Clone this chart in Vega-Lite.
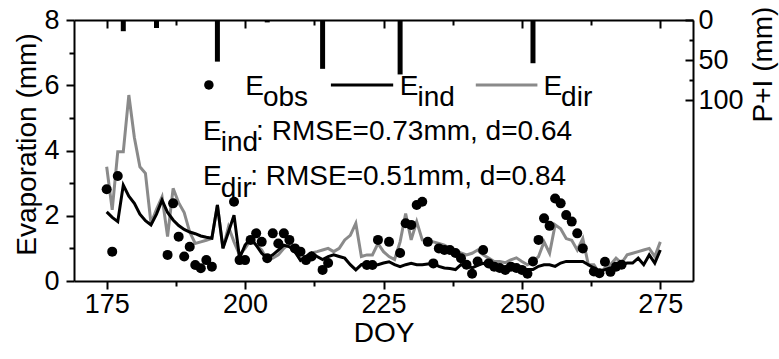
{
  "$schema": "https://vega.github.io/schema/vega-lite/v6.json",
  "width": 619,
  "height": 261,
  "autosize": {"type": "none"},
  "padding": {"left": 74, "top": 20, "right": 86, "bottom": 78},
  "background": "white",
  "config": {
    "font": "Liberation Sans",
    "view": {"stroke": null},
    "axis": {
      "domainColor": "black", "tickColor": "black", "labelColor": "black", "titleColor": "black",
      "labelFont": "Liberation Sans", "titleFont": "Liberation Sans",
      "labelFontSize": 27, "titleFontSize": 28, "titleFontWeight": "normal",
      "grid": false, "domainWidth": 2, "tickWidth": 2
    },
    "text": {"font": "Liberation Sans", "fontSize": 28, "color": "black", "align": "left", "baseline": "alphabetic"}
  },
  "datasets": {
    "series": [
      {"DOY":175,"Eind":2.12,"Edir":3.50},{"DOY":176,"Eind":1.95,"Edir":2.18},{"DOY":177,"Eind":1.82,"Edir":3.96},
      {"DOY":178,"Eind":2.94,"Edir":3.96},{"DOY":179,"Eind":2.60,"Edir":5.70},{"DOY":180,"Eind":2.38,"Edir":4.40},
      {"DOY":181,"Eind":2.05,"Edir":3.50},{"DOY":182,"Eind":1.85,"Edir":3.30},{"DOY":183,"Eind":1.72,"Edir":1.77},
      {"DOY":184,"Eind":2.05,"Edir":2.20},{"DOY":185,"Eind":2.48,"Edir":2.58},{"DOY":186,"Eind":2.10,"Edir":1.36},
      {"DOY":187,"Eind":1.87,"Edir":2.84},{"DOY":188,"Eind":1.70,"Edir":2.40},{"DOY":189,"Eind":1.58,"Edir":2.10},
      {"DOY":190,"Eind":1.50,"Edir":1.50},{"DOY":191,"Eind":1.45,"Edir":1.15},{"DOY":192,"Eind":1.38,"Edir":1.20},
      {"DOY":193,"Eind":1.34,"Edir":1.25},{"DOY":194,"Eind":1.31,"Edir":1.31},{"DOY":195,"Eind":2.33,"Edir":2.33},
      {"DOY":196,"Eind":1.00,"Edir":1.00},{"DOY":197,"Eind":1.50,"Edir":1.66},{"DOY":198,"Eind":2.02,"Edir":1.20},
      {"DOY":199,"Eind":0.70,"Edir":0.80},{"DOY":200,"Eind":1.10,"Edir":1.00},{"DOY":201,"Eind":1.30,"Edir":1.26},
      {"DOY":202,"Eind":1.10,"Edir":1.10},{"DOY":203,"Eind":0.85,"Edir":0.95},{"DOY":204,"Eind":0.70,"Edir":0.64},
      {"DOY":205,"Eind":0.80,"Edir":0.70},{"DOY":206,"Eind":0.95,"Edir":0.80},{"DOY":207,"Eind":1.10,"Edir":1.00},
      {"DOY":208,"Eind":1.05,"Edir":1.15},{"DOY":209,"Eind":0.90,"Edir":0.90},{"DOY":210,"Eind":0.63,"Edir":0.66},
      {"DOY":211,"Eind":0.75,"Edir":0.75},{"DOY":212,"Eind":0.86,"Edir":0.86},{"DOY":213,"Eind":0.75,"Edir":0.90},
      {"DOY":214,"Eind":0.66,"Edir":0.95},{"DOY":215,"Eind":0.75,"Edir":1.00},{"DOY":216,"Eind":0.80,"Edir":0.90},
      {"DOY":217,"Eind":0.75,"Edir":1.00},{"DOY":218,"Eind":0.70,"Edir":1.26},{"DOY":219,"Eind":0.50,"Edir":1.40},
      {"DOY":220,"Eind":0.34,"Edir":1.77},{"DOY":221,"Eind":0.50,"Edir":0.75},{"DOY":222,"Eind":0.55,"Edir":0.80},
      {"DOY":223,"Eind":0.50,"Edir":0.80},{"DOY":224,"Eind":0.50,"Edir":1.15},{"DOY":225,"Eind":0.55,"Edir":0.90},
      {"DOY":226,"Eind":0.59,"Edir":0.75},{"DOY":227,"Eind":0.50,"Edir":0.66},{"DOY":228,"Eind":0.44,"Edir":1.20},
      {"DOY":229,"Eind":0.50,"Edir":2.07},{"DOY":230,"Eind":0.54,"Edir":1.26},{"DOY":231,"Eind":0.50,"Edir":1.82},
      {"DOY":232,"Eind":0.50,"Edir":1.26},{"DOY":233,"Eind":0.52,"Edir":1.25},{"DOY":234,"Eind":0.54,"Edir":1.20},
      {"DOY":235,"Eind":0.45,"Edir":1.15},{"DOY":236,"Eind":0.40,"Edir":1.10},{"DOY":237,"Eind":0.38,"Edir":1.00},
      {"DOY":238,"Eind":0.35,"Edir":0.90},{"DOY":239,"Eind":0.50,"Edir":0.86},{"DOY":240,"Eind":0.48,"Edir":0.80},
      {"DOY":241,"Eind":0.40,"Edir":0.85},{"DOY":242,"Eind":0.48,"Edir":0.95},{"DOY":243,"Eind":0.54,"Edir":0.80},
      {"DOY":244,"Eind":0.48,"Edir":0.70},{"DOY":245,"Eind":0.44,"Edir":0.60},{"DOY":246,"Eind":0.42,"Edir":0.60},
      {"DOY":247,"Eind":0.40,"Edir":0.56},{"DOY":248,"Eind":0.38,"Edir":0.65},{"DOY":249,"Eind":0.35,"Edir":0.71},
      {"DOY":250,"Eind":0.35,"Edir":0.60},{"DOY":251,"Eind":0.35,"Edir":0.50},{"DOY":252,"Eind":0.35,"Edir":0.60},
      {"DOY":253,"Eind":0.45,"Edir":0.75},{"DOY":254,"Eind":0.50,"Edir":1.20},{"DOY":255,"Eind":0.50,"Edir":0.85},
      {"DOY":256,"Eind":0.45,"Edir":1.72},{"DOY":257,"Eind":0.55,"Edir":1.60},{"DOY":258,"Eind":0.60,"Edir":1.30},
      {"DOY":259,"Eind":0.60,"Edir":1.25},{"DOY":260,"Eind":0.60,"Edir":0.95},{"DOY":261,"Eind":0.60,"Edir":1.30},
      {"DOY":262,"Eind":0.50,"Edir":0.50},{"DOY":263,"Eind":0.40,"Edir":0.50},{"DOY":264,"Eind":0.29,"Edir":0.24},
      {"DOY":265,"Eind":0.35,"Edir":0.40},{"DOY":266,"Eind":0.40,"Edir":0.50},{"DOY":267,"Eind":0.45,"Edir":0.70},
      {"DOY":268,"Eind":0.50,"Edir":0.55},{"DOY":269,"Eind":0.55,"Edir":0.80},{"DOY":270,"Eind":0.55,"Edir":0.85},
      {"DOY":271,"Eind":0.70,"Edir":0.90},{"DOY":272,"Eind":0.50,"Edir":0.95},{"DOY":273,"Eind":0.80,"Edir":1.00},
      {"DOY":274,"Eind":0.55,"Edir":0.75},{"DOY":275,"Eind":0.95,"Edir":1.20}
    ],
    "obs": [
      {"DOY":175,"Eobs":2.81},{"DOY":176,"Eobs":0.90},{"DOY":177,"Eobs":3.22},{"DOY":186,"Eobs":0.80},
      {"DOY":187,"Eobs":2.38},{"DOY":188,"Eobs":1.36},{"DOY":189,"Eobs":0.75},{"DOY":190,"Eobs":1.05},
      {"DOY":191,"Eobs":0.49},{"DOY":192,"Eobs":0.39},{"DOY":193,"Eobs":0.64},{"DOY":194,"Eobs":0.44},
      {"DOY":198,"Eobs":2.43},{"DOY":199,"Eobs":0.64},{"DOY":200,"Eobs":0.64},{"DOY":201,"Eobs":1.26},
      {"DOY":202,"Eobs":1.46},{"DOY":203,"Eobs":1.20},{"DOY":204,"Eobs":0.70},{"DOY":205,"Eobs":1.46},
      {"DOY":206,"Eobs":1.15},{"DOY":207,"Eobs":1.46},{"DOY":208,"Eobs":1.26},{"DOY":209,"Eobs":1.00},
      {"DOY":210,"Eobs":0.90},{"DOY":211,"Eobs":0.64},{"DOY":212,"Eobs":0.75},{"DOY":214,"Eobs":0.34},
      {"DOY":215,"Eobs":0.55},{"DOY":222,"Eobs":0.49},{"DOY":223,"Eobs":0.49},{"DOY":224,"Eobs":1.26},
      {"DOY":226,"Eobs":1.20},{"DOY":228,"Eobs":0.86},{"DOY":229,"Eobs":1.77},{"DOY":230,"Eobs":1.72},
      {"DOY":231,"Eobs":2.33},{"DOY":232,"Eobs":2.43},{"DOY":233,"Eobs":1.20},{"DOY":234,"Eobs":0.54},
      {"DOY":235,"Eobs":1.00},{"DOY":236,"Eobs":0.95},{"DOY":237,"Eobs":0.95},{"DOY":238,"Eobs":0.86},
      {"DOY":239,"Eobs":0.70},{"DOY":240,"Eobs":0.50},{"DOY":241,"Eobs":0.22},{"DOY":242,"Eobs":0.60},
      {"DOY":243,"Eobs":0.95},{"DOY":244,"Eobs":0.54},{"DOY":245,"Eobs":0.44},{"DOY":246,"Eobs":0.40},
      {"DOY":247,"Eobs":0.34},{"DOY":248,"Eobs":0.44},{"DOY":249,"Eobs":0.40},{"DOY":250,"Eobs":0.34},
      {"DOY":251,"Eobs":0.22},{"DOY":252,"Eobs":0.60},{"DOY":253,"Eobs":1.26},{"DOY":254,"Eobs":1.92},
      {"DOY":255,"Eobs":1.69},{"DOY":256,"Eobs":2.53},{"DOY":257,"Eobs":2.38},{"DOY":258,"Eobs":2.02},
      {"DOY":259,"Eobs":1.82},{"DOY":260,"Eobs":1.46},{"DOY":261,"Eobs":1.00},{"DOY":263,"Eobs":0.29},
      {"DOY":264,"Eobs":0.24},{"DOY":265,"Eobs":0.59},{"DOY":266,"Eobs":0.28},{"DOY":267,"Eobs":0.44},
      {"DOY":268,"Eobs":0.50}
    ],
    "rain": [
      {"DOY":178,"PI":14},{"DOY":184,"PI":10},{"DOY":195,"PI":52},{"DOY":204,"PI":3},
      {"DOY":214,"PI":61},{"DOY":228,"PI":68},{"DOY":252,"PI":54}
    ],
    "one": [{}]
  },
  "layer": [
    {
      "data": {"name": "rain"},
      "mark": {"type": "bar", "color": "black", "size": 5},
      "encoding": {
        "x": {"field": "DOY", "type": "quantitative", "scale": {"domain": [170, 280], "nice": false, "zero": false}, "axis": null},
        "y": {"field": "PI", "type": "quantitative",
              "scale": {"domain": [0, 326], "nice": false, "reverse": true},
              "axis": {"orient": "right", "title": "P+I (mm)", "values": [0, 25, 50, 75, 100],
                       "labelExpr": "datum.value % 50 === 0 ? datum.label : ''",
                       "tickSize": {"condition": {"test": "datum.value % 50 !== 0", "value": -4}, "value": -8},
                       "labelPadding": 13, "labelAlign": "left",
                       "titleAngle": 270, "titleAlign": "center", "titleBaseline": "alphabetic",
                       "titleX": 78, "titleY": 44}},
        "y2": {"datum": 0}
      }
    },
    {
      "data": {"name": "series"},
      "mark": {"type": "line", "color": "#8a8a8a", "strokeWidth": 3},
      "encoding": {
        "x": {"field": "DOY", "type": "quantitative", "scale": {"domain": [170, 280], "nice": false, "zero": false},
              "axis": {"orient": "bottom", "title": "DOY", "values": [175, 187.5, 200, 212.5, 225, 237.5, 250, 262.5, 275],
                       "format": "d",
                       "labelExpr": "datum.value % 25 === 0 ? datum.label : ''",
                       "tickSize": {"condition": {"test": "datum.value % 25 !== 0", "value": 5}, "value": 8},
                       "labelPadding": 2, "titleBaseline": "alphabetic", "titleY": 60}},
        "y": {"field": "Edir", "type": "quantitative", "scale": {"domain": [0, 8], "nice": false},
              "axis": {"orient": "left", "title": "Evaporation (mm)", "values": [0, 1, 2, 3, 4, 5, 6, 7, 8],
                       "labelExpr": "datum.value % 2 === 0 ? datum.label : ''",
                       "tickSize": {"condition": {"test": "datum.value % 2 !== 0", "value": 5}, "value": 8},
                       "labelPadding": 7, "titleAlign": "center", "titleBaseline": "alphabetic",
                       "titleX": -39, "titleY": 124}}
      }
    },
    {
      "data": {"name": "series"},
      "mark": {"type": "line", "color": "black", "strokeWidth": 3},
      "encoding": {
        "x": {"field": "DOY", "type": "quantitative",
              "axis": {"orient": "top", "title": null, "labels": false, "values": [175, 187.5, 200, 212.5, 225, 237.5, 250, 262.5, 275],
                       "tickSize": {"condition": {"test": "datum.value % 25 !== 0", "value": -5}, "value": -8}}},
        "y": {"field": "Eind", "type": "quantitative", "scale": {"domain": [0, 8], "nice": false}, "axis": null}
      }
    },
    {
      "data": {"name": "obs"},
      "mark": {"type": "point", "filled": true, "color": "black", "size": 100, "opacity": 1},
      "encoding": {
        "x": {"field": "DOY", "type": "quantitative", "axis": null},
        "y": {"field": "Eobs", "type": "quantitative", "scale": {"domain": [0, 8], "nice": false}, "axis": null}
      }
    },
    {"data": {"name": "one"}, "mark": {"type": "point", "filled": true, "color": "black", "size": 90, "opacity": 1},
     "encoding": {"x": {"datum": 193.46, "type": "quantitative", "axis": null}, "y": {"datum": 6.01, "type": "quantitative", "scale": {"domain": [0, 8], "nice": false}, "axis": null}}},
    {"data": {"name": "one"}, "mark": {"type": "text", "text": "E"},
     "encoding": {"x": {"datum": 200.03, "type": "quantitative", "axis": null}, "y": {"datum": 5.70, "type": "quantitative", "scale": {"domain": [0, 8], "nice": false}, "axis": null}}},
    {"data": {"name": "one"}, "mark": {"type": "text", "text": "obs"},
     "encoding": {"x": {"datum": 203.23, "type": "quantitative", "axis": null}, "y": {"datum": 5.36, "type": "quantitative", "scale": {"domain": [0, 8], "nice": false}, "axis": null}}},
    {"data": {"name": "one"}, "mark": {"type": "rule", "color": "black", "strokeWidth": 3},
     "encoding": {"x": {"datum": 215.5, "type": "quantitative", "axis": null}, "x2": {"datum": 226.75}, "y": {"datum": 6.01, "type": "quantitative", "scale": {"domain": [0, 8], "nice": false}, "axis": null}}},
    {"data": {"name": "one"}, "mark": {"type": "text", "text": "E"},
     "encoding": {"x": {"datum": 227.94, "type": "quantitative", "axis": null}, "y": {"datum": 5.70, "type": "quantitative", "scale": {"domain": [0, 8], "nice": false}, "axis": null}}},
    {"data": {"name": "one"}, "mark": {"type": "text", "text": "ind"},
     "encoding": {"x": {"datum": 231.13, "type": "quantitative", "axis": null}, "y": {"datum": 5.36, "type": "quantitative", "scale": {"domain": [0, 8], "nice": false}, "axis": null}}},
    {"data": {"name": "one"}, "mark": {"type": "rule", "color": "#8a8a8a", "strokeWidth": 3},
     "encoding": {"x": {"datum": 241.67, "type": "quantitative", "axis": null}, "x2": {"datum": 252.8}, "y": {"datum": 6.01, "type": "quantitative", "scale": {"domain": [0, 8], "nice": false}, "axis": null}}},
    {"data": {"name": "one"}, "mark": {"type": "text", "text": "E"},
     "encoding": {"x": {"datum": 253.88, "type": "quantitative", "axis": null}, "y": {"datum": 5.70, "type": "quantitative", "scale": {"domain": [0, 8], "nice": false}, "axis": null}}},
    {"data": {"name": "one"}, "mark": {"type": "text", "text": "dir"},
     "encoding": {"x": {"datum": 257.08, "type": "quantitative", "axis": null}, "y": {"datum": 5.36, "type": "quantitative", "scale": {"domain": [0, 8], "nice": false}, "axis": null}}},
    {"data": {"name": "one"}, "mark": {"type": "text", "text": "E"},
     "encoding": {"x": {"datum": 192.39, "type": "quantitative", "axis": null}, "y": {"datum": 4.32, "type": "quantitative", "scale": {"domain": [0, 8], "nice": false}, "axis": null}}},
    {"data": {"name": "one"}, "mark": {"type": "text", "text": "ind"},
     "encoding": {"x": {"datum": 195.59, "type": "quantitative", "axis": null}, "y": {"datum": 3.97, "type": "quantitative", "scale": {"domain": [0, 8], "nice": false}, "axis": null}}},
    {"data": {"name": "one"}, "mark": {"type": "text", "text": ": RMSE=0.73mm, d=0.64"},
     "encoding": {"x": {"datum": 201.99, "type": "quantitative", "axis": null}, "y": {"datum": 4.32, "type": "quantitative", "scale": {"domain": [0, 8], "nice": false}, "axis": null}}},
    {"data": {"name": "one"}, "mark": {"type": "text", "text": "E"},
     "encoding": {"x": {"datum": 192.39, "type": "quantitative", "axis": null}, "y": {"datum": 2.94, "type": "quantitative", "scale": {"domain": [0, 8], "nice": false}, "axis": null}}},
    {"data": {"name": "one"}, "mark": {"type": "text", "text": "dir"},
     "encoding": {"x": {"datum": 195.59, "type": "quantitative", "axis": null}, "y": {"datum": 2.59, "type": "quantitative", "scale": {"domain": [0, 8], "nice": false}, "axis": null}}},
    {"data": {"name": "one"}, "mark": {"type": "text", "text": " : RMSE=0.51mm, d=0.84"},
     "encoding": {"x": {"datum": 200.92, "type": "quantitative", "axis": null}, "y": {"datum": 2.94, "type": "quantitative", "scale": {"domain": [0, 8], "nice": false}, "axis": null}}}
  ],
  "resolve": {"scale": {"y": "independent"}}
}
